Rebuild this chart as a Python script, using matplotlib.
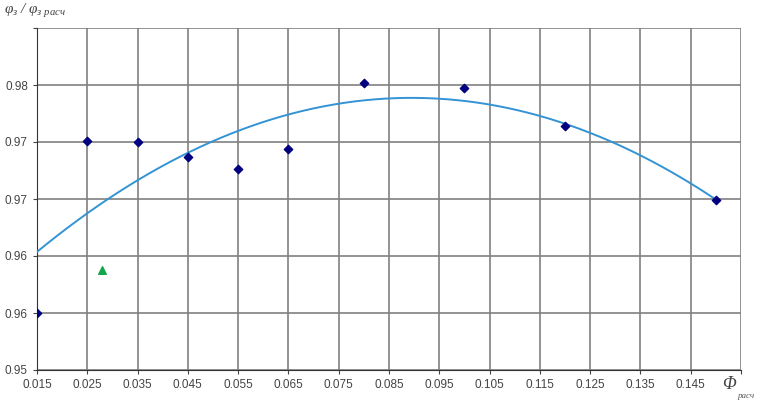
import numpy as np
import matplotlib
matplotlib.use("Agg")
import matplotlib.pyplot as plt

plt.rcParams['font.family'] = ['Liberation Sans', 'DejaVu Sans']
plt.rcParams['mathtext.fontset'] = 'custom'
plt.rcParams['mathtext.it'] = 'Liberation Serif:italic'
plt.rcParams['mathtext.rm'] = 'Liberation Serif:italic'

# измеренные точки
phi_calc = [0.015, 0.025, 0.035, 0.045, 0.055, 0.065, 0.080, 0.100, 0.120, 0.150]
ratio = [0.9550, 0.9701, 0.9700, 0.9687, 0.9676, 0.9694, 0.9752, 0.9747, 0.9714, 0.9649]

# отдельная точка (зелёный треугольник)
extra_x = [0.028]
extra_y = [0.9588]

x_ticks = [0.015, 0.025, 0.035, 0.045, 0.055, 0.065, 0.075, 0.085, 0.095,
           0.105, 0.115, 0.125, 0.135, 0.145, 0.155]
x_labels = ['0.015', '0.025', '0.035', '0.045', '0.055', '0.065', '0.075', '0.085',
            '0.095', '0.105', '0.115', '0.125', '0.135', '0.145', '']
y_ticks = [0.950, 0.955, 0.960, 0.965, 0.970, 0.975, 0.980]
y_labels = ['0.95', '0.96', '0.96', '0.97', '0.97', '0.98', '']

fig = plt.figure(figsize=(7.63, 4.01), dpi=100)
ax = fig.add_axes([37 / 763, 31 / 401, 704 / 763, 342 / 401])

# полиномиальный тренд 2-го порядка
coef = np.polyfit(phi_calc, ratio, 2)
xs = np.linspace(0.015, 0.150, 200)
ax.plot(xs, np.polyval(coef, xs), color='#3393d4', lw=1.4, zorder=3)

ax.scatter(phi_calc, ratio, marker='D', s=18, color='#000080', zorder=4)
ax.scatter(extra_x, extra_y, marker='^', s=30, color='#12a64a', zorder=4)

ax.set_xlim(0.015, 0.155)
ax.set_ylim(0.950, 0.980)
ax.set_xticks(x_ticks)
ax.set_xticklabels(x_labels)
ax.set_yticks(y_ticks)
ax.set_yticklabels(y_labels)
ax.tick_params(labelsize=8.5, colors='#444444', length=3, width=0.8)
ax.grid(True, color='#808080', lw=1.2)
ax.set_axisbelow(True)
for s in ['top', 'right']:
    ax.spines[s].set_visible(False)
for s in ['left', 'bottom']:
    ax.spines[s].set_color('#333333')

fig.text(0.005, 0.965, r'$\varphi_з\ /\ \varphi_{з\ расч}$', fontsize=11, color='#444444')
fig.text(0.946, 0.03, 'Φ', fontsize=13, color='#444444',
         family='Liberation Serif', style='italic')
fig.text(0.966, 0.008, 'расч', fontsize=6.5, color='#555555',
         family='Liberation Serif', style='italic')

fig.savefig('out.png', dpi=100)
